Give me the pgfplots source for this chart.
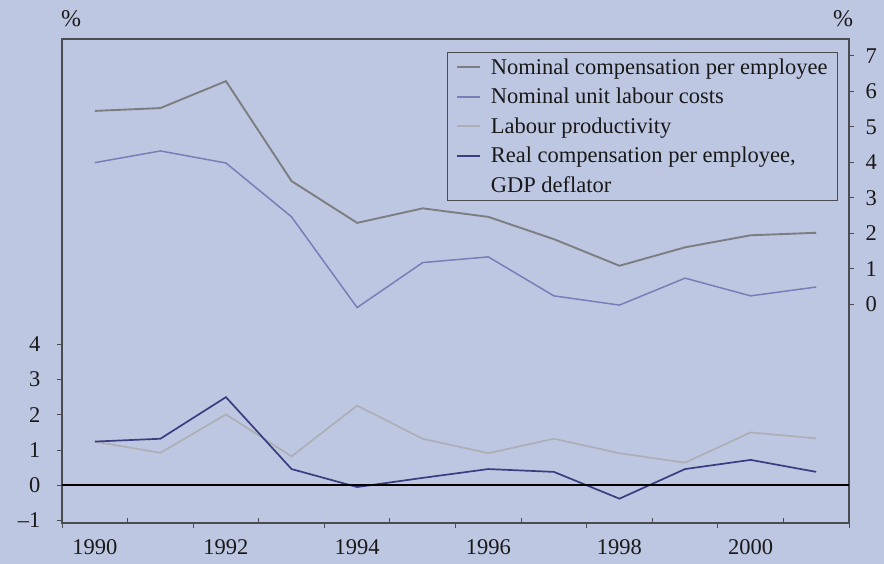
\documentclass[border=0pt]{standalone}
\usepackage{fontspec}
\setmainfont{Liberation Serif}
\usepackage{pgfplots}
\pgfplotsset{compat=1.18}
\definecolor{bg}{RGB}{190,199,225}
\definecolor{axcol}{RGB}{75,75,82}
\definecolor{nomcomp}{RGB}{125,126,130}
\definecolor{ulc}{RGB}{122,126,184}
\definecolor{prod}{RGB}{172,175,182}
\definecolor{realcomp}{RGB}{58,62,128}

\pgfplotsset{base/.style={
  scale only axis, width=787pt, height=484pt,
  at={(62pt,41pt)}, anchor=south west,
  xmin=1989.5, xmax=2001.5, clip=false,
  tick label style={font=\fontsize{22.5}{26}\selectfont, text=black!90},
  /pgf/number format/assume math mode=true,
  every tick/.append style={axcol, line width=1pt},
  major tick length=5pt,
  axis line style={axcol, line width=1.2pt}
}}

\begin{document}
\begin{tikzpicture}
\useasboundingbox (0,0) rectangle (884pt,564pt);
\fill[bg] (0,0) rectangle (884pt,564pt);
\node[font=\fontsize{24}{28}\selectfont, text=black!90] at (71pt,545pt) {\%};
\node[font=\fontsize{24}{28}\selectfont, text=black!90] at (843pt,545pt) {\%};

% lower panel, left scale
\begin{axis}[base,
  ymin=-1.07, ymax=12.66,
  ytick={-1,0,1,2,3,4}, yticklabels={\textendash1,0,1,2,3,4},
  yticklabel style={xshift=-13pt},
  xtick={1989.5,1991.5,...,2001.5}, xticklabels={},
  tick align=outside, xtick pos=bottom, ytick pos=left,
  extra x ticks={1990,1992,...,2000},
  extra x tick labels={1990,1992,1994,1996,1998,2000},
  extra x tick style={major tick length=0pt, tick label style={yshift=-13pt}}]
  \addplot[prod, line width=1.7pt] coordinates {
    (1990,1.24)(1991,0.92)(1992,2.01)(1993,0.82)(1994,2.26)(1995,1.32)
    (1996,0.91)(1997,1.32)(1998,0.91)(1999,0.64)(2000,1.50)(2001,1.33)};
  \addplot[realcomp, line width=1.7pt] coordinates {
    (1990,1.24)(1991,1.32)(1992,2.50)(1993,0.46)(1994,-0.05)(1995,0.21)
    (1996,0.46)(1997,0.38)(1998,-0.38)(1999,0.46)(2000,0.72)(2001,0.38)};
  \addplot[black, line width=2.4pt] coordinates {(1989.5,0)(2001.5,0)};
\end{axis}

% inner tick marks on the x axis
\begin{axis}[base, ymin=0, ymax=1,
  axis line style={draw=none}, ytick=\empty,
  xtick={1990.5,1992.5,...,2000.5}, xticklabels={},
  tick align=inside, xtick pos=bottom]
  \addplot[draw=none] coordinates {(1990,0.5)};
\end{axis}

% upper panel, right scale
\begin{axis}[base,
  ymin=-6.18, ymax=7.48,
  axis line style={draw=none},
  xtick=\empty, ytick={0,1,...,7}, ytick pos=right, tick align=outside,
  yticklabel style={xshift=8pt},
  legend cell align=left,
  legend image code/.code={\draw[#1, line width=2.2pt] (0pt,0pt) -- (23pt,0pt); \path (31pt,0pt);},
  legend style={at={(0.986,0.973)}, anchor=north east,
    draw=axcol, line width=0.8pt, fill=none,
    font=\fontsize{22.5}{26}\selectfont, text=black!90,
    inner xsep=8pt, inner ysep=4pt, row sep=8.5pt}]
  \addplot[nomcomp, line width=1.9pt] coordinates {
    (1990,5.45)(1991,5.53)(1992,6.29)(1993,3.47)(1994,2.29)(1995,2.70)
    (1996,2.46)(1997,1.83)(1998,1.08)(1999,1.60)(2000,1.94)(2001,2.01)};
  \addlegendentry{Nominal compensation per employee}
  \addplot[ulc, line width=1.5pt] coordinates {
    (1990,3.99)(1991,4.32)(1992,3.98)(1993,2.46)(1994,-0.10)(1995,1.17)
    (1996,1.33)(1997,0.23)(1998,-0.03)(1999,0.73)(2000,0.23)(2001,0.48)};
  \addlegendentry{Nominal unit labour costs}
  \addlegendimage{prod}
  \addlegendentry{Labour productivity}
  \addlegendimage{realcomp}
  \addlegendentry{Real compensation per employee,}
  \addlegendimage{empty legend}
  \addlegendentry{GDP deflator}
\end{axis}
\end{tikzpicture}
\end{document}
